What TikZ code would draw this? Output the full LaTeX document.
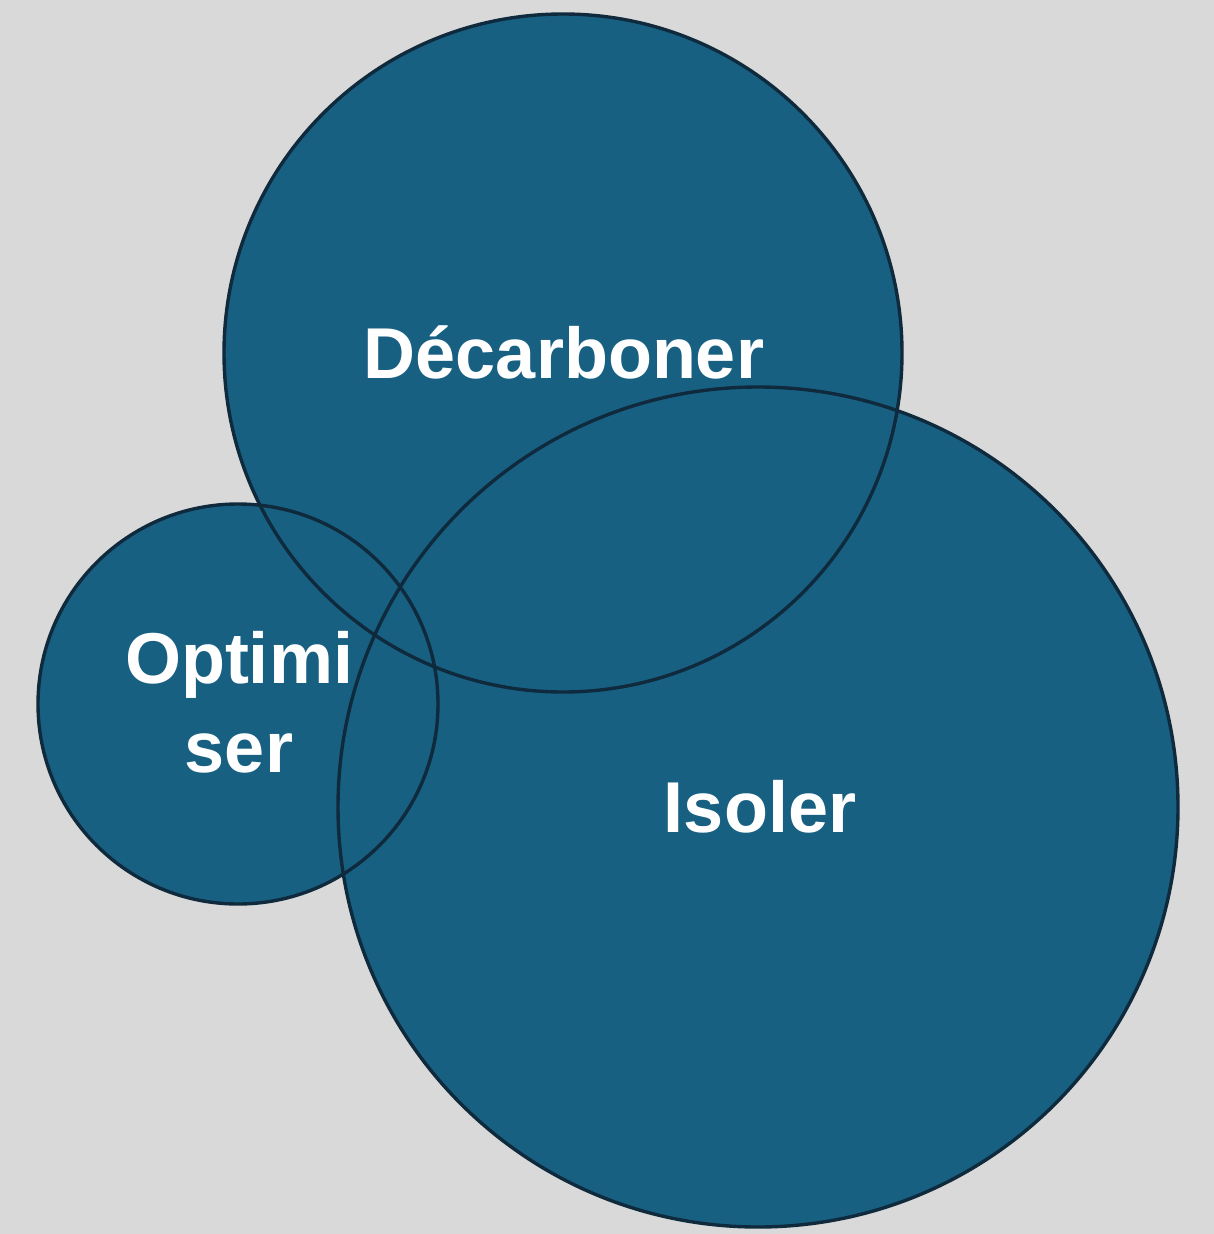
\documentclass[tikz,border=0pt]{standalone}
\usepackage{fontspec}
\setmainfont{Liberation Sans}
\begin{document}
\begin{tikzpicture}[x=1pt,y=-1pt,
  disc/.style={fill=circfill,draw=none},
  ring/.style={draw=circline,line width=3.4pt},
  lbl/.style={text=white,font=\bfseries\fontsize{72}{89}\selectfont,align=center,inner sep=0pt}]
\definecolor{bgc}{HTML}{D9D9D9}
\definecolor{circfill}{HTML}{186082}
\definecolor{circline}{HTML}{0E2A3C}
\fill[bgc] (0,0) rectangle (1214,1234);
\useasboundingbox (0,0) rectangle (1214,1234);
\coordinate (cD) at (563,353);
\coordinate (cI) at (758,807);
\coordinate (cO) at (238,704);
\fill[disc] (cD) circle (339);
\fill[disc] (cI) circle (420);
\fill[disc] (cO) circle (200);
\draw[ring] (cD) circle (339);
\draw[ring] (cI) circle (420);
\draw[ring] (cO) circle (200);
\node[lbl,anchor=base] (tD) at (564,378) {Décarboner};
\node[lbl,anchor=base] (tI) at (760,832) {Isoler};
\node[lbl,anchor=base] (tO) at (239,772) {Optimi\\ser};
\end{tikzpicture}
\end{document}
